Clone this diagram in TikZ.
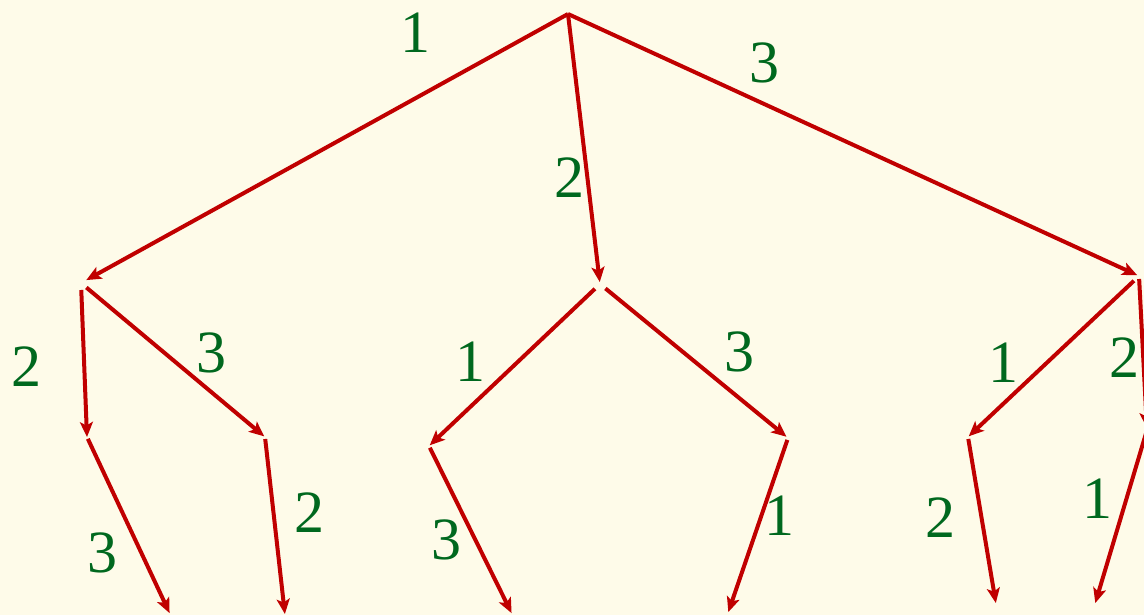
\documentclass[tikz,border=0pt]{standalone}
\usepackage{fontspec}
\setmainfont{Liberation Serif}
\usetikzlibrary{arrows.meta}
\definecolor{bgcol}{RGB}{254,251,233}
\definecolor{edgered}{RGB}{192,0,0}
\definecolor{labgreen}{RGB}{0,104,30}
\tikzset{
  treeedge/.style={draw=edgered, line width=4pt,
    -{Stealth[length=15pt,width=13pt,inset=3.5pt]}},
  lab/.style={text=labgreen, font=\fontsize{60}{62}\selectfont, inner sep=0pt, anchor=center}
}
\begin{document}
\begin{tikzpicture}[x=1pt,y=-1pt]
\fill[bgcol] (0,0) rectangle (1144,615);
\useasboundingbox (0,0) rectangle (1144,615);
\clip (0,0) rectangle (1144,615);
% nodes
\coordinate (R) at (568,14);
\coordinate (A) at (81,283);
\coordinate (B) at (600,284);
\coordinate (C) at (1139,276);
\coordinate (AA) at (87,437);
\coordinate (AB) at (265,437);
\coordinate (BA) at (429,446);
\coordinate (BB) at (788,438);
\coordinate (CA) at (968,437);
\coordinate (CB) at (1147,430);
\coordinate (AAL) at (170,614);
\coordinate (ABL) at (285,615);
\coordinate (BAL) at (512,614);
\coordinate (BBL) at (728,613);
\coordinate (CAL) at (996,604);
\coordinate (CBL) at (1095,604);
% edges
\draw[treeedge, shorten >=6pt] (R) -- (A);
\draw[treeedge, shorten >=2pt] (R) -- (B);
\draw[treeedge, shorten >=2pt] (R) -- (C);
\draw[treeedge, shorten <=7pt, shorten >=0pt] (A) -- (AA);
\draw[treeedge, shorten <=7pt, shorten >=1pt] (A) -- (AB);
\draw[treeedge, shorten <=7pt, shorten >=1pt] (B) -- (BA);
\draw[treeedge, shorten <=7pt, shorten >=2pt] (B) -- (BB);
\draw[treeedge, shorten <=7pt, shorten >=1pt] (C) -- (CA);
\draw[treeedge, shorten <=3pt, shorten >=2pt] (C) -- (CB);
\draw[treeedge, shorten <=2pt, shorten >=1pt] (AA) -- (AAL);
\draw[treeedge, shorten <=2pt, shorten >=1pt] (AB) -- (ABL);
\draw[treeedge, shorten <=2pt, shorten >=1pt] (BA) -- (BAL);
\draw[treeedge, shorten <=2pt, shorten >=1pt] (BB) -- (BBL);
\draw[treeedge, shorten <=2pt, shorten >=1pt] (CA) -- (CAL);
\draw[treeedge, shorten <=2pt, shorten >=1pt] (CB) -- (CBL);
% labels
\node[lab] (l1) at (415,33) {1};
\node[lab] (l2) at (569,178) {2};
\node[lab] (l3) at (764,63) {3};
\node[lab] (l4) at (27,367) {2};
\node[lab] (l5) at (211,353) {3};
\node[lab] (l6) at (470,362) {1};
\node[lab] (l7) at (739,352) {3};
\node[lab] (l8) at (1003,363) {1};
\node[lab] (l9) at (1124,358) {2};
\node[lab] (l10) at (102,553) {3};
\node[lab] (l11) at (309,513) {2};
\node[lab] (l12) at (446,540) {3};
\node[lab] (l13) at (779,516) {1};
\node[lab] (l14) at (940,518) {2};
\node[lab] (l15) at (1097,499) {1};
\end{tikzpicture}
\end{document}
